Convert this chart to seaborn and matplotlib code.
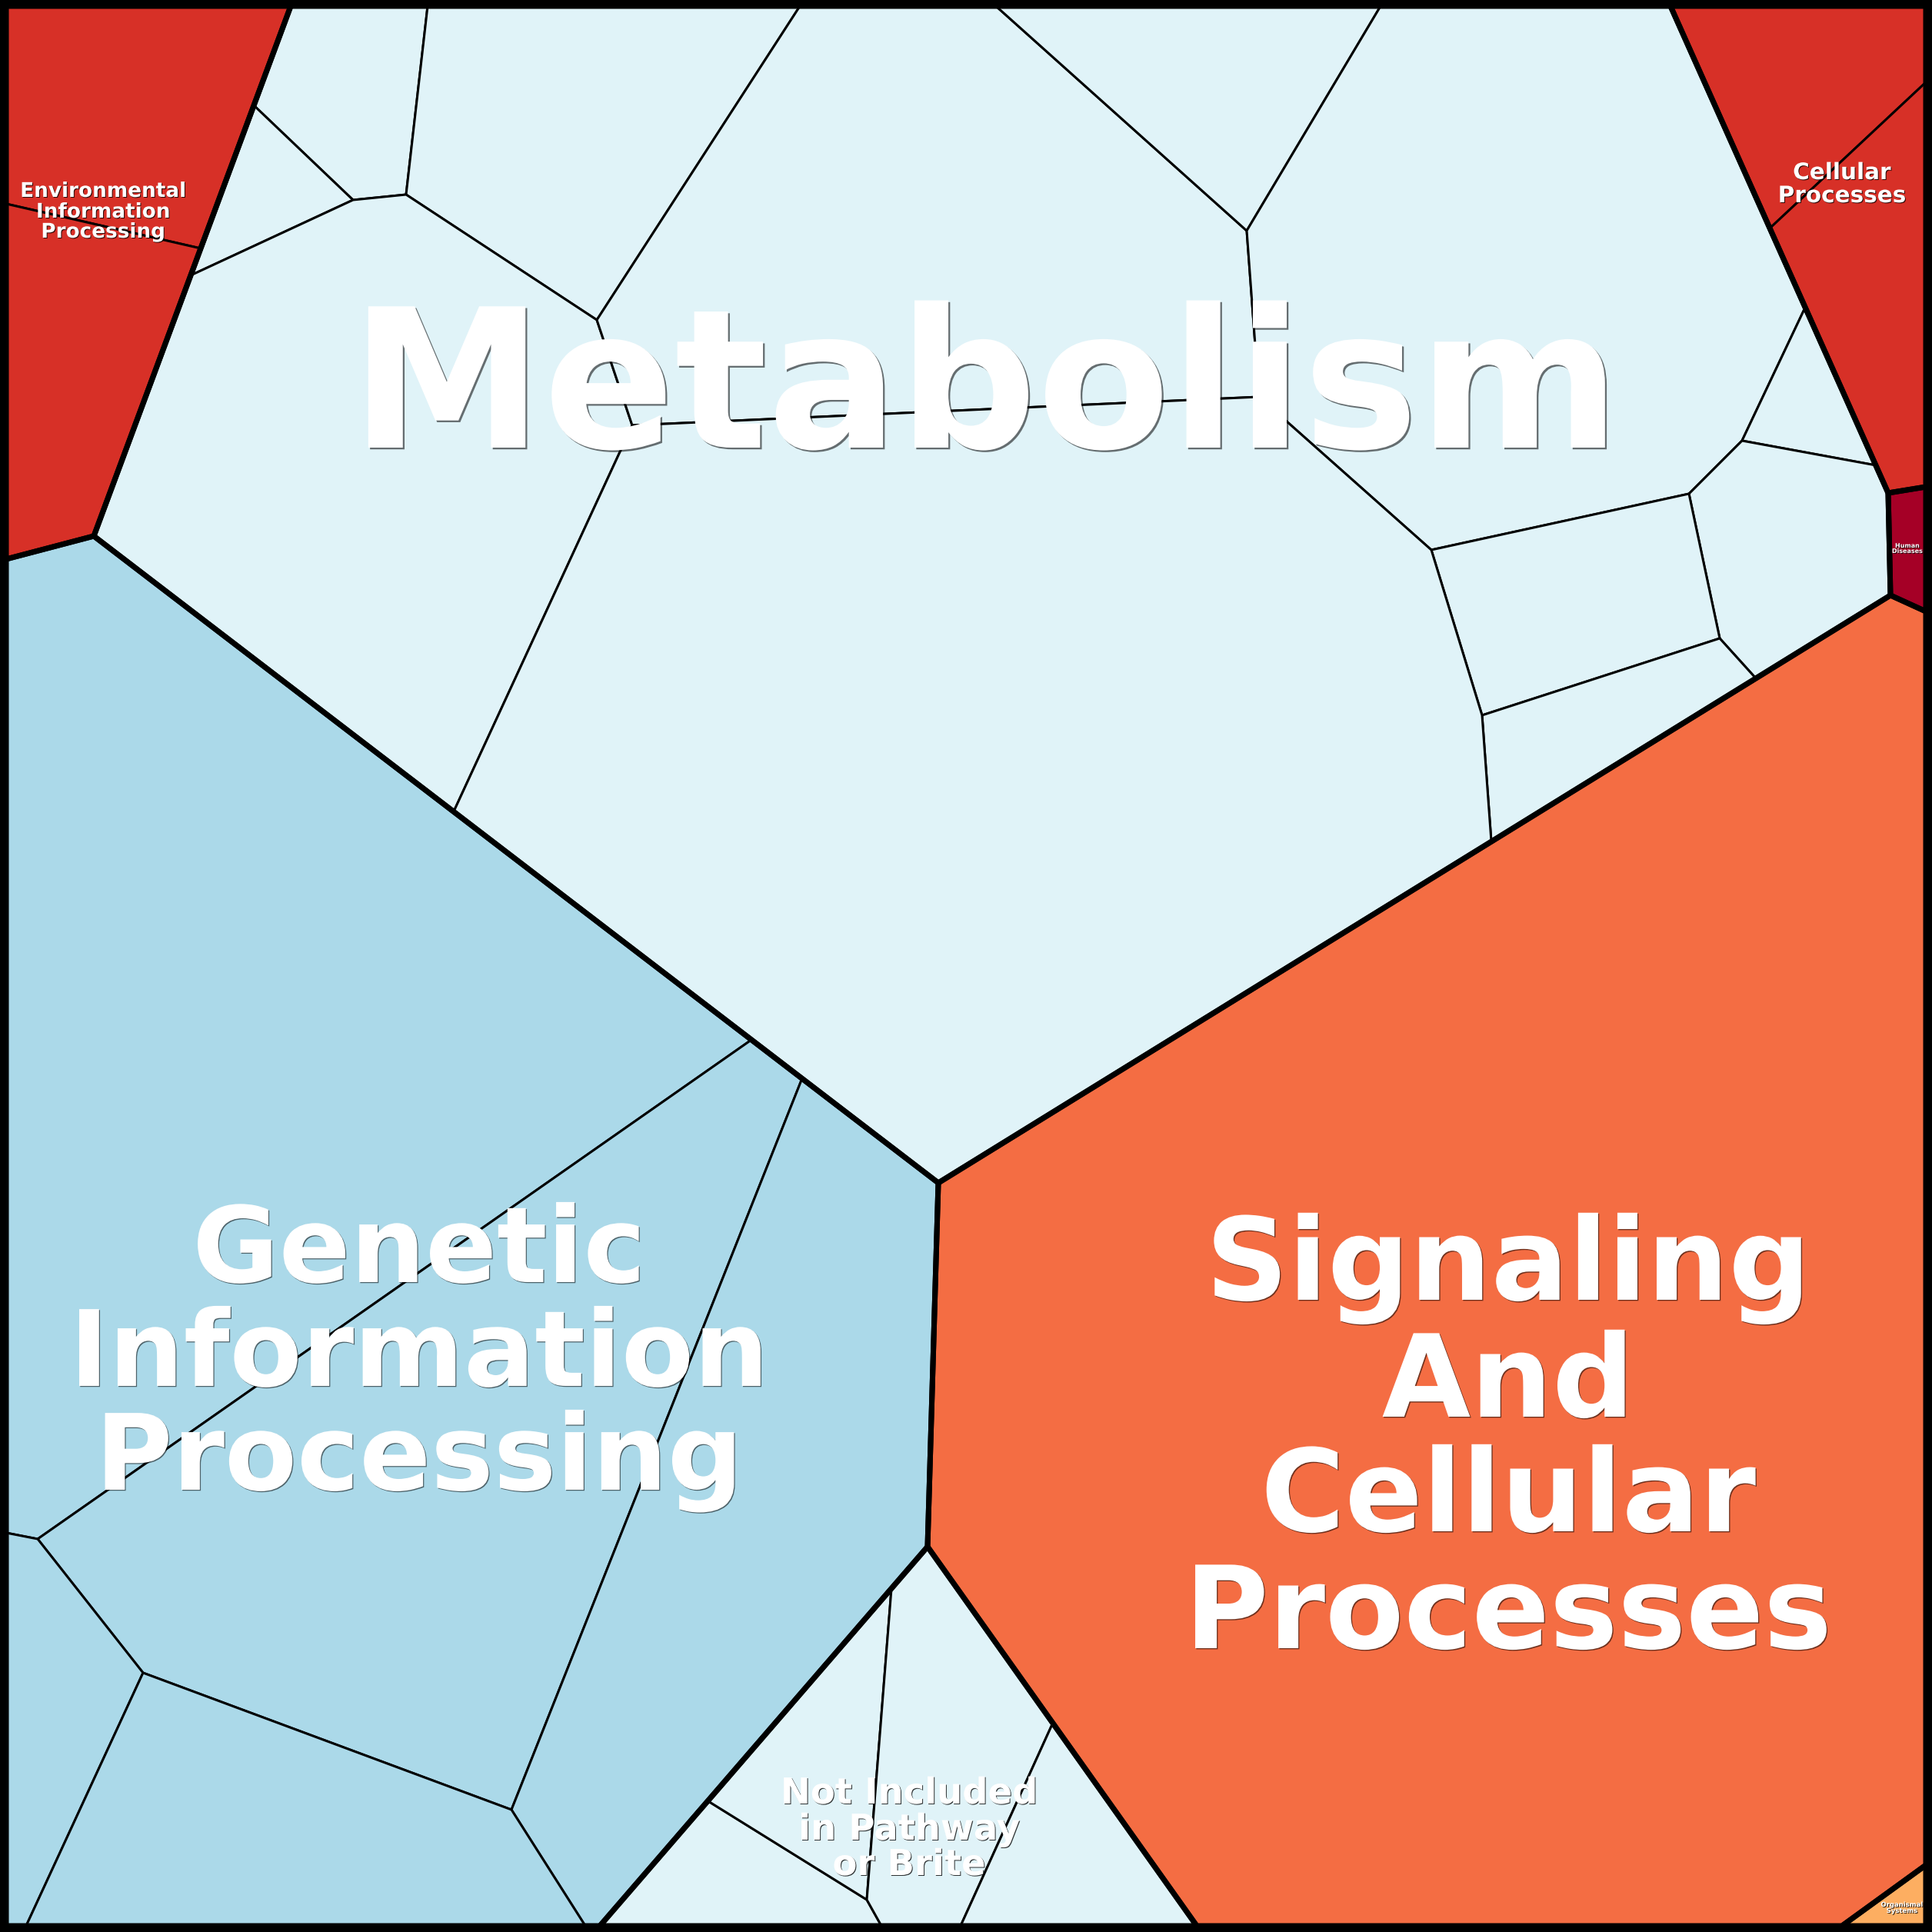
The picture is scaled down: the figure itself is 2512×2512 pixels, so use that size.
import matplotlib
matplotlib.use('Agg')
import matplotlib.pyplot as plt
import matplotlib.patheffects as pe
from matplotlib.patches import Polygon
import seaborn as sns

# --- frame and top-level junctions (pixel space of the 2512 px treemap) ---
TL, TR, BR, BL = (8, 8), (2504, 8), (2504, 2504), (8, 2504)
A, B, C = (378, 8), (122, 697), (8, 727)
D, E, F = (2172, 8), (2455, 641), (2504, 633)
G, H = (2458, 774), (2504, 795)
I, J = (1220, 1538), (1206, 2011)
K, L = (780, 2504), (1556, 2504)
M, N = (2395, 2504), (2504, 2425)

# --- categories ---
categorias = ['Metabolism', 'Genetic Information Processing',
              'Environmental Information Processing', 'Cellular Processes',
              'Human Diseases', 'Organismal Systems',
              'Signaling And Cellular Processes',
              'Not Included in Pathway or Brite']
cores = ['#e0f3f8', '#abd9e9', '#d73027', '#d73027',
         '#a50026', '#fdae61', '#f46d43', '#e0f3f8']

contornos = [
    [A, D, E, G, I, B],
    [C, B, I, J, K, BL],
    [TL, A, B, C],
    [D, TR, F, E],
    [E, F, H, G],
    [M, N, BR],
    [I, G, H, N, M, L, J],
    [J, L, K],
]

# --- sub-cells: Metabolism ---
m1, m2, m3, m4, m5 = (556, 8), (528, 253), (459, 260), (330, 137), (248, 358)
m6, m7, m8, m9 = (776, 416), (1040, 8), (822, 553), (590, 1055)
m10, m11, m12, m13 = (1295, 8), (1795, 8), (1621, 300), (1637, 516)
m14, m15, m16, m17 = (1861, 715), (2196, 642), (2265, 573), (2347, 400)
m18, m19, m20 = (2439, 605), (2236, 830), (2283, 882)
m21, m22 = (1927, 930), (1939, 1094)
celulas_met = [
    [A, m1, m2, m3, m4], [m4, m3, m5], [m1, m7, m6, m2],
    [m5, m3, m2, m6, m8, m9, B], [m7, m10, m12, m13, m8, m6],
    [m10, m11, m12], [m11, D, m17, m16, m15, m14, m13, m12],
    [m17, m18, m16], [m16, m18, E, G, m20, m19, m15],
    [m15, m19, m21, m14], [m19, m20, m22, m21],
    [m9, m8, m13, m14, m21, m22, I],
]

# --- sub-cells: Genetic Information Processing ---
g1, g2, g3, g4 = (977, 1352), (1043, 1402), (49, 2001), (8, 1993)
g5, g6, g7, g8 = (186, 2175), (34, 2504), (665, 2353), (761, 2504)
celulas_gen = [
    [C, B, g1, g3, g4], [g1, g2, g7, g5, g3], [g2, I, J, K, g8, g7],
    [g4, g3, g5, g6, BL], [g5, g7, g8, g6],
]

# --- sub-cells: the rest ---
celulas_eip = [[TL, A, (261, 323), (8, 265)], [(8, 265), (261, 323), B, C]]
celulas_cp = [[D, TR, (2504, 107), (2302, 296)], [(2302, 296), (2504, 107), F, E]]
celulas_hd = [[E, F, H, G]]
celulas_os = [[M, N, BR]]
celulas_sig = [[I, G, H, N, M, L, J]]
n1, n2, n3 = (1159, 2066), (1127, 2470), (921, 2342)
n4, n5, n6 = (1146, 2504), (1369, 2240), (1249, 2504)
celulas_ni = [[K, n3, n2, n4], [n1, n2, n3], [J, n5, n6, n4, n2, n1], [n5, L, n6]]

celulas = [celulas_met, celulas_gen, celulas_eip, celulas_cp,
           celulas_hd, celulas_os, celulas_sig, celulas_ni]

# --- labels (one line per entry) ---
rotulos = [
    ['Metabolism'],
    ['Genetic', 'Information', 'Processing'],
    ['Environmental', 'Information', 'Processing'],
    ['Cellular', 'Processes'],
    ['Human', 'Diseases'],
    ['Organismal', 'Systems'],
    ['Signaling', 'And', 'Cellular', 'Processes'],
    ['Not Included', 'in Pathway', 'or Brite'],
]

# layout of the labels: centre x, baselines, em size in px
rotulo_x = [1281, 545, 134, 2395, 2480, 2473, 1961, 1182]
rotulo_base = [[582], [1667, 1802, 1937], [256, 283, 309], [233, 263],
               [712, 719], [2479, 2487], [1690, 1842, 1991, 2143],
               [2345, 2392, 2438]]
rotulo_em = [252, 137, 26.3, 29.5, 8, 8.5, 149, 46.5]

# --- DESENHO ---
sns.set_theme(style='white')
plt.rcParams['font.family'] = ['DejaVu Sans']

DPI = 100
fig = plt.figure(figsize=(25.12, 25.12), dpi=DPI, facecolor='black')
ax = fig.add_axes([0, 0, 1, 1])
ax.set_facecolor('black')
ax.set_xlim(0, 2512)
ax.set_ylim(2512, 0)
ax.axis('off')

px = 72.0 / DPI  # points per pixel

for cor, grupo in zip(cores, celulas):
    for cel in grupo:
        ax.add_patch(Polygon(cel, closed=True, facecolor=cor,
                             edgecolor='black', lw=3 * px, joinstyle='round'))

for cont in contornos:
    ax.add_patch(Polygon(cont, closed=True, fill=False,
                         edgecolor='black', lw=7 * px, joinstyle='round'))

for linhas, x, bases, em in zip(rotulos, rotulo_x, rotulo_base, rotulo_em):
    off = max(1.0, em * 0.009) * px
    alfa = 0.55 if em > 100 else 0.8
    efeito = [pe.SimplePatchShadow(offset=(off, -off), shadow_rgbFace='black', alpha=alfa),
              pe.Normal()]
    for txt, yb in zip(linhas, bases):
        ax.text(x, yb, txt, ha='center', va='baseline', color='white',
                fontsize=em * px, fontweight='bold', path_effects=efeito)

fig.savefig('out.png', dpi=DPI, facecolor='black')
